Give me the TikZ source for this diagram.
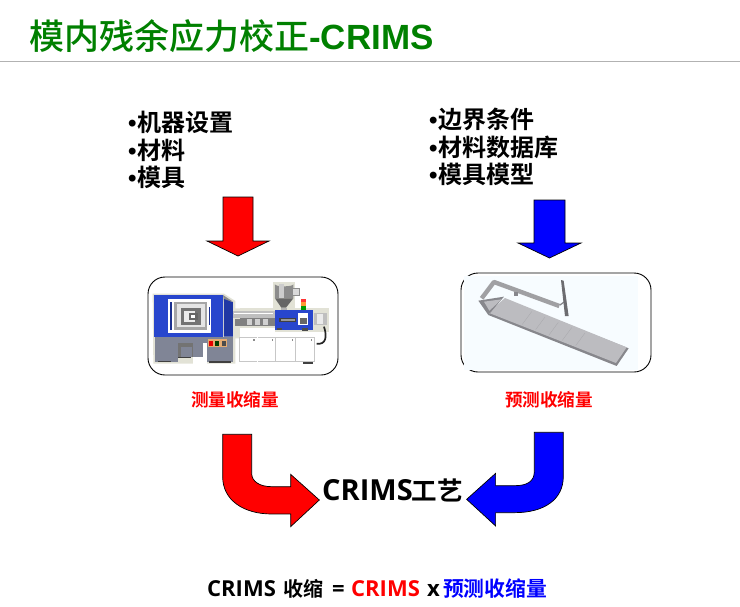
\documentclass[tikz,border=0pt]{standalone}
\usepackage{fontspec}
\setmainfont{Open Sans}
\newfontfamily\cjkb{Noto Sans CJK SC Bold}
\newfontfamily\cjkt{Noto Sans CJK SC Medium}
\newfontfamily\arialb{Liberation Sans Bold}
\newfontfamily\osb{Open Sans Bold}
\newcommand{\sz}[1]{\fontsize{#1}{#1}\selectfont}
\newcommand{\cell}[2]{\makebox[#1pt][l]{#2}}
\definecolor{titlegreen}{RGB}{0,128,0}
\definecolor{mblue}{RGB}{40,70,205}
\definecolor{mgray}{RGB}{128,133,150}
\definecolor{partgray}{RGB}{188,188,192}
\definecolor{partdark}{RGB}{135,135,140}
\definecolor{halo}{RGB}{226,226,214}
\tikzset{
  x=1pt,y=-1pt,
  block/.style={draw=black,line width=.7pt},
  frame/.style={draw=black,line width=.9pt,rounded corners=17pt,fill=white},
  lab/.style={inner sep=0pt,anchor=west,black,align=left,font=\cjkb\fontsize{24}{27.5}\selectfont},
  zm/.style={x=.3333pt,y=-.3333pt},
}
\begin{document}
\begin{tikzpicture}
\useasboundingbox (0,0) rectangle (740,606);
% title
\node[inner sep=0pt,anchor=west,text=titlegreen] (title) at (29,36) {\sz{35}\cjkt 模内残余应力校正\arialb\sz{35}-CRIMS};
\coordinate (ruleL) at (0,61.5); \coordinate (ruleR) at (740,61.5);
\draw[draw=black!30,line width=.7pt] (ruleL) -- (ruleR);
% top lists
\node[lab] (listL) at (128,150) {{\arialb •}\kern1pt 机器设置\\{\arialb •}\kern1pt 材料\\{\arialb •}\kern1pt 模具};
\node[lab] (listR) at (429,147) {{\arialb •}\kern1pt 边界条件\\{\arialb •}\kern1pt 材料数据库\\{\arialb •}\kern1pt 模具模型};
% down arrows
\path[block,fill=red] (223,197)--(253,197)--(253,241)--(269,241)--(238,256)--(207,241)--(223,241)--cycle;
\path[block,fill=blue] (534,200)--(565,200)--(565,243)--(581,243)--(549.5,258)--(518,243)--(534,243)--cycle;
% machine box
\path[frame] (148,277) rectangle (338,375);
% machine, left half
\begin{scope}[shift={(148,275)},zm]
  \fill[halo] (14,56) -- (228,56) -- (262,78) -- (262,100) -- (285,100) -- (285,190) -- (262,190) -- (262,266) -- (16,266) -- cycle;
  \fill[mblue] (18,60) -- (225,60) -- (225,185) -- (18,185) -- cycle;
  \fill[black!45] (225,60) -- (255,80) -- (228,80) -- cycle;
  \fill[mblue!80!black] (228,72) -- (255,82) -- (255,185) -- (228,185) -- cycle;
  \fill[white] (60,72) rectangle (190,175);
  \fill[mblue!70!black] (67,80) rectangle (72,165);
  \fill[black!35] (78,80) rectangle (178,165);
  \fill[black!10] (88,88) rectangle (170,155);
  \fill[black!55] (100,100) -- (160,100) -- (160,150) -- (100,150) -- cycle;
  \fill[black!8] (108,108) rectangle (140,142);
  \fill[black!60] (122,115) rectangle (150,135);
  \fill[white] (128,120) rectangle (142,130);
  \fill[mblue!70!black] (182,95) rectangle (187,150);
  % base
  \fill[mgray] (22,185) rectangle (90,260);
  \fill[mgray] (90,185) rectangle (165,205);
  \fill[mgray] (178,185) rectangle (255,262);
  \fill[mgray] (165,185) rectangle (178,205);
  \fill[black!55] (90,205) rectangle (135,245);
  \fill[mgray] (98,215) rectangle (133,245);
  \fill[mgray] (135,205) rectangle (165,245);
  \fill[white] (135,245) rectangle (178,268);
  \fill[white] (165,205) rectangle (178,245);
  \fill[black!75] (30,257) rectangle (70,262);
  \fill[black!75] (90,245) rectangle (130,249);
  \fill[black!75] (182,258) rectangle (250,263);
  % barrel stub
  \fill[black!25] (255,108) rectangle (285,130);
  \fill[white] (258,113) rectangle (285,118);
  \fill[black!50] (262,133) rectangle (285,153);
  % control panel
  \fill[orange!40!brown!65] (180,192) rectangle (237,217);
  \fill[red!90!black] (184,199) rectangle (194,212);
  \fill[green!25!black] (202,199) rectangle (214,212);
  \fill[black!70] (222,199) rectangle (233,212);
\end{scope}
% machine, right half
\begin{scope}[shift={(240,275)},zm]
  \fill[halo] (0,100) rectangle (268,172);
  \fill[halo] (100,20) rectangle (165,104);
  \fill[white] (0,172) rectangle (228,270);
  % barrel
  \fill[black!25] (0,108) rectangle (105,130);
  \fill[white] (0,113) rectangle (100,118);
  \fill[black!50] (0,130) rectangle (105,153);
  \foreach \cx in {22,46,70} \fill[black!18] (\cx,133) rectangle (\cx+15,150);
  \fill[white] (0,158) rectangle (105,172);
  % injection unit
  \fill[mblue] (105,105) rectangle (218,165);
  \fill[black!75] (118,128) rectangle (168,140);
  \fill[black!40] (122,131) rectangle (164,137);
  \fill[white] (175,115) rectangle (205,150);
  \fill[black!60] (180,130) rectangle (202,146);
  \fill[black!70] (185,158) rectangle (205,168);
  \fill[black!70] (112,158) rectangle (125,166);
  % hopper
  \fill[black!45] (105,28) arc[start angle=180,end angle=0,x radius=27.5,y radius=6] -- (160,70) -- (105,70) -- cycle;
  \fill[black!20] (118,26) rectangle (132,70);
  \fill[black!60] (105,70) -- (160,70) -- (138,98) -- (124,98) -- cycle;
  \fill[black!30] (122,98) rectangle (140,105);
  \fill[black!15] (158,40) rectangle (178,60);
  \draw[black!45,line width=.5pt] (158,40) rectangle (178,60);
  % signal
  \fill[red!80] (184,72) rectangle (197,82);
  \fill[orange!80] (184,82) rectangle (197,93);
  \fill[green!60!black] (184,93) rectangle (197,105);
  % motor
  \fill[black!25] (222,115) rectangle (262,150);
  \fill[black!8] (232,118) rectangle (248,148);
  \draw[black!85,line width=1.7pt] (252,155) .. controls (262,185) and (258,210) .. (230,206);
  % cabinets
  \foreach \cxa/\cxb in {0/50,55/105,108/165,168/222}{
    \fill[black!22] (\cxa-2,186) rectangle (\cxb+2,260);
    \fill[white] (\cxa,190) rectangle (\cxb,257);
    \fill[black!45] (\cxb-10,192) rectangle (\cxb-5,198);
  }
  \fill[black!75] (190,262) rectangle (220,268);
\end{scope}
% part box
\path[frame] (461,273) rectangle (651,372);
\begin{scope}[shift={(460,270)},zm]
  \fill[blue!40!cyan!3] (12,18) rectangle (533,300);
  \draw[partgray!85!black,line width=4.4pt,line join=round] (65,85) -- (102,36) -- (298,108);
  \draw[partdark,line width=1.3pt] (300,105) -- (318,92);
  \fill[partdark!80!black] (303,30) -- (311,32) -- (326,138) -- (315,138) -- cycle;
  \fill[partdark] (163,66) rectangle (174,78);
  \fill[partdark] (85,135) -- (470,288) -- (506,235) -- (135,88) -- cycle;
  \fill[partgray] (85,128) -- (135,84) -- (500,232) -- (468,279) -- cycle;
  \foreach \tx in {215,255,295,335,375}
    \draw[partdark!40!partgray,line width=.3pt] (\tx,125+\tx*0.4-86) -- (\tx-28,125+\tx*0.4-86+38);
  \fill[partdark] (55,92) -- (132,80) -- (85,135) -- cycle;
  \fill[partgray] (72,95) -- (125,88) -- (88,122) -- cycle;
\end{scope}
% labels
\node[inner sep=0pt,text=red] (measure) at (235,400) {\cjkb\sz{17.6}测量收缩量};
\node[inner sep=0pt,text=red] (predict) at (549,400) {\cjkb\sz{17.6}预测收缩量};
% curved arrows
\begin{scope}[shift={(200,420)},zm]
  \path[block,fill=red] (68,43)--(155,43)--(155,160) .. controls (155,185) and (180,200) .. (215,200) --(272,200)--(272,163)--(358,240)--(272,320)--(272,282)--(215,282) .. controls (130,282) and (68,240) .. (68,170) --cycle;
  \path[block,fill=blue] (1003,37)--(1090,37)--(1090,170) .. controls (1090,240) and (1030,278) .. (945,278) --(887,278)--(887,318)--(800,238)--(887,160)--(887,197)--(945,197) .. controls (980,197) and (1003,185) .. (1003,155) --cycle;
\end{scope}
\node[inner sep=0pt,anchor=west] (crims) at (322,490) {\osb\sz{29}CRIMS\kern-1pt\cjkb\sz{25.5}工艺};
% bottom formula
\node[inner sep=0pt,anchor=west] (formula) at (207,589) {\osb\sz{22}\cell{76}{CRIMS}\cell{49}{\cjkb\sz{20}收缩}\cell{19}{=}\cell{76}{\textcolor{red}{CRIMS}}\cell{16}{x}\textcolor{blue}{\cjkb\sz{20.8}预测收缩量}};
\end{tikzpicture}
\end{document}
